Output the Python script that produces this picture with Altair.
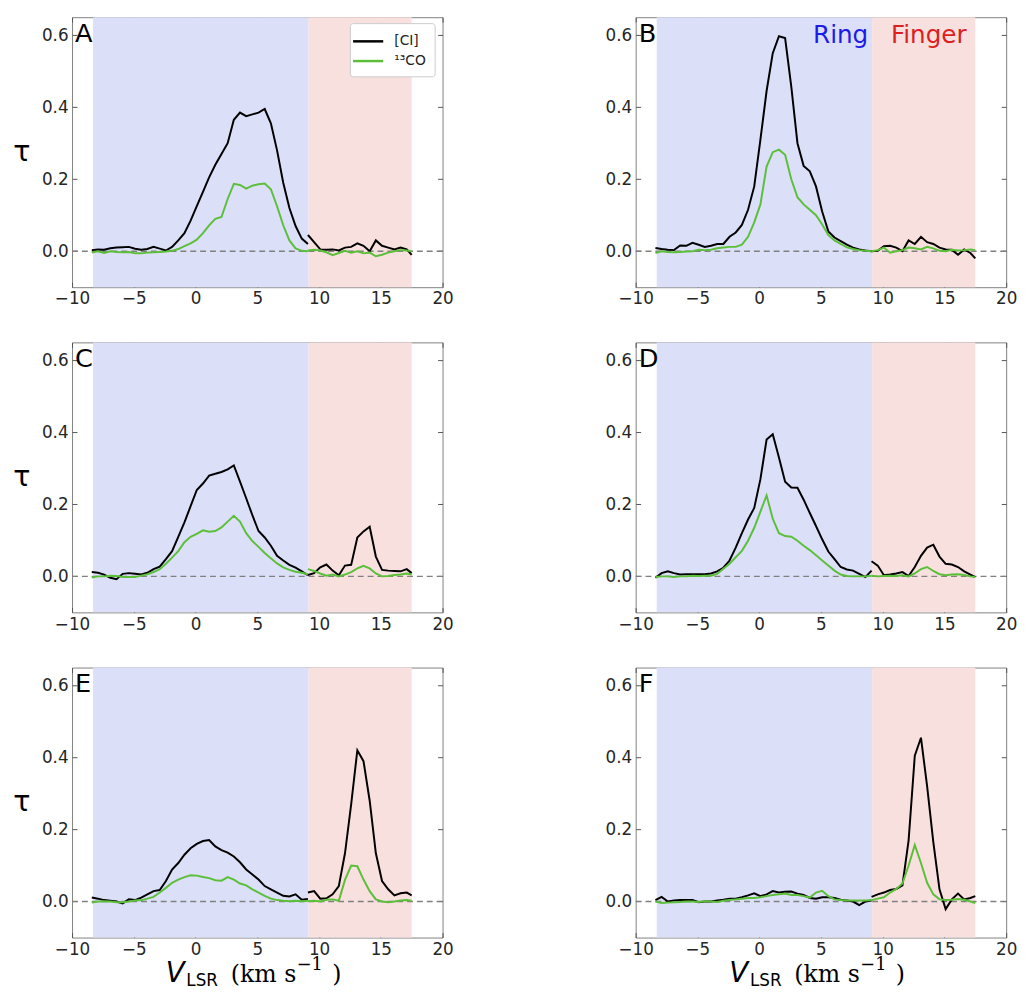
import altair as alt
import pandas as pd

# ---------------- data ----------------
V_RING = [-8.4, -7.9, -7.4, -6.9, -6.4, -5.9, -5.4, -4.9, -4.4, -3.9, -3.4, -2.9,
          -2.4, -1.9, -1.4, -0.9, -0.4, 0.1, 0.6, 1.1, 1.6, 2.1, 2.6, 3.1,
          3.6, 4.1, 4.6, 5.1, 5.6, 6.1, 6.6, 7.1, 7.6, 8.1, 8.6, 9.1]
V_FINGER = [9.1, 9.6, 10.1, 10.6, 11.1, 11.6, 12.1, 12.6, 13.1, 13.6, 14.1, 14.6,
            15.1, 15.6, 16.1, 16.6, 17.1, 17.5]

# Panel A
CI_A_RING = [0.003, 0.005, 0.004, 0.008, 0.010, 0.011, 0.012, 0.007, 0.004, 0.006, 0.012, 0.007,
             0.002, 0.012, 0.030, 0.050, 0.085, 0.125, 0.165, 0.205, 0.240, 0.270, 0.300, 0.365,
             0.385, 0.375, 0.380, 0.385, 0.395, 0.355, 0.280, 0.190, 0.120, 0.070, 0.035, 0.020]
CO_A_RING = [-0.004, 0.000, -0.005, 0.000, -0.002, -0.003, -0.002, -0.006, -0.006, -0.004, -0.003, -0.002,
             -0.001, 0.001, 0.006, 0.014, 0.022, 0.032, 0.050, 0.072, 0.090, 0.095, 0.145, 0.187,
             0.184, 0.174, 0.182, 0.186, 0.188, 0.172, 0.125, 0.072, 0.030, 0.008, 0.001, 0.000]
CI_A_FINGER = [0.045, 0.025, 0.005, 0.004, 0.005, 0.002, 0.010, 0.012, 0.022, 0.015, 0.000, 0.030,
               0.015, 0.010, 0.005, 0.010, 0.005, -0.010]
CO_A_FINGER = [0.002, 0.004, 0.002, -0.003, -0.011, -0.005, 0.001, -0.004, 0.000, -0.006, -0.004, -0.014,
               -0.010, -0.004, 0.000, 0.003, 0.002, 0.000]

# Panel B
CI_B_RING = [0.009, 0.006, 0.004, 0.003, 0.016, 0.015, 0.023, 0.018, 0.012, 0.015, 0.020, 0.020,
             0.040, 0.052, 0.073, 0.115, 0.180, 0.310, 0.445, 0.550, 0.597, 0.592, 0.457, 0.300,
             0.237, 0.222, 0.180, 0.110, 0.055, 0.038, 0.028, 0.018, 0.010, 0.005, 0.002, 0.000]
CO_B_RING = [-0.005, 0.000, -0.002, -0.003, -0.002, -0.001, 0.000, 0.004, 0.003, 0.004, 0.008, 0.010,
             0.012, 0.012, 0.018, 0.040, 0.080, 0.130, 0.235, 0.275, 0.282, 0.268, 0.200, 0.150,
             0.130, 0.115, 0.100, 0.074, 0.045, 0.030, 0.020, 0.011, 0.006, 0.003, 0.001, 0.000]
CI_B_FINGER = [0.000, 0.001, 0.014, 0.015, 0.010, 0.000, 0.030, 0.020, 0.040, 0.025, 0.020, 0.010,
               0.005, 0.004, -0.010, 0.005, -0.005, -0.020]
CO_B_FINGER = [0.000, 0.003, 0.010, -0.004, 0.000, 0.003, 0.010, 0.008, 0.005, 0.012, 0.008, 0.001,
               0.000, 0.004, 0.002, 0.003, 0.005, 0.003]

# Panel C
CI_C_RING = [0.012, 0.010, 0.005, -0.004, -0.008, 0.007, 0.009, 0.007, 0.005, 0.010, 0.020, 0.027,
             0.048, 0.070, 0.110, 0.150, 0.195, 0.240, 0.258, 0.280, 0.285, 0.290, 0.297, 0.308,
             0.263, 0.217, 0.170, 0.126, 0.108, 0.085, 0.057, 0.044, 0.032, 0.024, 0.014, 0.003]
CO_C_RING = [-0.003, 0.000, 0.000, 0.002, 0.001, -0.002, -0.002, -0.002, 0.002, 0.006, 0.012, 0.020,
             0.035, 0.052, 0.070, 0.095, 0.110, 0.118, 0.128, 0.124, 0.126, 0.136, 0.152, 0.168,
             0.152, 0.120, 0.098, 0.082, 0.065, 0.050, 0.036, 0.025, 0.018, 0.013, 0.010, 0.006]
CI_C_FINGER = [0.004, 0.009, 0.025, 0.033, 0.016, 0.003, 0.030, 0.032, 0.108, 0.125, 0.138, 0.055,
               0.018, 0.016, 0.015, 0.014, 0.020, 0.009]
CO_C_FINGER = [0.020, 0.015, 0.008, 0.002, 0.005, 0.000, 0.005, 0.012, 0.022, 0.029, 0.022, 0.008,
               0.000, 0.001, 0.004, 0.005, 0.008, 0.005]

# Panel D
CI_D_RING = [-0.004, 0.009, 0.014, 0.009, 0.005, 0.006, 0.006, 0.006, 0.006, 0.008, 0.014, 0.024,
             0.044, 0.080, 0.120, 0.158, 0.190, 0.270, 0.380, 0.395, 0.330, 0.263, 0.247, 0.246,
             0.213, 0.176, 0.140, 0.103, 0.069, 0.048, 0.026, 0.019, 0.016, 0.007, -0.002, 0.016]
CO_D_RING = [-0.002, 0.000, 0.000, -0.002, 0.000, 0.000, 0.002, 0.001, 0.002, 0.002, 0.007, 0.021,
             0.035, 0.053, 0.071, 0.099, 0.135, 0.180, 0.225, 0.160, 0.120, 0.112, 0.110, 0.099,
             0.085, 0.073, 0.059, 0.044, 0.030, 0.016, 0.005, 0.001, 0.000, 0.000, 0.000, 0.002]
CI_D_FINGER = [0.042, 0.030, 0.003, 0.005, 0.008, 0.012, 0.001, 0.026, 0.057, 0.080, 0.088, 0.055,
               0.035, 0.033, 0.026, 0.014, 0.005, -0.002]
CO_D_FINGER = [0.002, 0.000, 0.001, 0.002, 0.001, 0.003, 0.000, 0.008, 0.020, 0.026, 0.015, 0.006,
               0.003, 0.005, 0.006, 0.004, 0.000, -0.002]

# Panel E
CI_E_RING = [0.011, 0.008, 0.004, 0.002, 0.000, -0.005, 0.006, 0.004, 0.011, 0.020, 0.029, 0.032,
             0.057, 0.089, 0.107, 0.130, 0.148, 0.160, 0.168, 0.171, 0.153, 0.143, 0.136, 0.125,
             0.109, 0.089, 0.075, 0.061, 0.043, 0.034, 0.025, 0.016, 0.014, 0.020, 0.005, 0.007]
CO_E_RING = [-0.003, 0.000, 0.001, 0.000, -0.002, -0.002, 0.000, 0.003, 0.004, 0.008, 0.013, 0.025,
             0.038, 0.052, 0.061, 0.068, 0.073, 0.072, 0.068, 0.065, 0.059, 0.058, 0.068, 0.061,
             0.050, 0.045, 0.034, 0.025, 0.016, 0.008, 0.004, 0.002, 0.001, 0.002, 0.001, 0.002]
CI_E_FINGER = [0.025, 0.029, 0.008, 0.009, 0.020, 0.043, 0.134, 0.270, 0.420, 0.390, 0.280, 0.134,
               0.057, 0.034, 0.017, 0.023, 0.025, 0.017]
CO_E_FINGER = [0.001, 0.002, 0.000, 0.005, 0.006, 0.002, 0.060, 0.100, 0.098, 0.061, 0.029, 0.006,
               0.000, -0.002, 0.000, 0.003, 0.004, 0.002]

# Panel F
CI_F_RING = [0.004, 0.013, 0.000, 0.003, 0.004, 0.004, 0.004, -0.002, 0.000, 0.000, 0.003, 0.005,
             0.008, 0.008, 0.012, 0.017, 0.023, 0.015, 0.020, 0.029, 0.025, 0.027, 0.028, 0.022,
             0.018, 0.010, 0.008, 0.012, 0.012, 0.010, 0.005, 0.003, 0.000, -0.010, 0.000, 0.003]
CO_F_RING = [0.000, -0.004, -0.003, -0.002, -0.001, 0.000, 0.000, -0.001, 0.001, 0.000, -0.001, 0.002,
             0.004, 0.006, 0.008, 0.010, 0.010, 0.012, 0.015, 0.018, 0.020, 0.022, 0.018, 0.018,
             0.015, 0.011, 0.025, 0.030, 0.015, 0.006, 0.004, 0.003, 0.003, 0.003, 0.003, 0.004]
CI_F_FINGER = [0.013, 0.020, 0.025, 0.032, 0.035, 0.045, 0.170, 0.405, 0.455, 0.320, 0.165, 0.034,
               -0.021, 0.006, 0.022, 0.006, 0.010, 0.015]
CO_F_FINGER = [0.004, 0.008, 0.012, 0.025, 0.035, 0.050, 0.100, 0.157, 0.107, 0.052, 0.020, 0.006,
               0.004, 0.005, 0.007, 0.005, 0.000, -0.004]

PANEL_LABELS = ["A", "B", "C", "D", "E", "F"]
PANEL_DATA = [
    (CI_A_RING, CO_A_RING, CI_A_FINGER, CO_A_FINGER),
    (CI_B_RING, CO_B_RING, CI_B_FINGER, CO_B_FINGER),
    (CI_C_RING, CO_C_RING, CI_C_FINGER, CO_C_FINGER),
    (CI_D_RING, CO_D_RING, CI_D_FINGER, CO_D_FINGER),
    (CI_E_RING, CO_E_RING, CI_E_FINGER, CO_E_FINGER),
    (CI_F_RING, CO_F_RING, CI_F_FINGER, CO_F_FINGER),
]

SPECIES = ["[CI]", "¹³CO"]
SPECIES_COLORS = ["#000000", "#5cbf3a"]
REGION_NAMES = ["Ring", "Finger"]
REGION_START = [-8.3, 9.15]
REGION_END = [9.15, 17.5]
REGION_FILL = ["#dcdff8", "#f8e0df"]
REGION_TEXT_COLORS = ["#1c1ce8", "#dd1f1f"]
X_TICKS = [-10, -5, 0, 5, 10, 15, 20]
Y_TICKS = [0.0, 0.2, 0.4, 0.6]
X_DOMAIN = [-10, 20]
Y_DOMAIN = [-0.1, 0.65]

W, H = 376, 274
FONT = "DejaVu Sans"
SERIF = "DejaVu Serif"


def text_layer(txt, x, y, size, font=FONT, color="black", align="left",
               baseline="alphabetic", style="normal"):
    return alt.Chart(pd.DataFrame({"t": [txt]})).mark_text(
        align=align, baseline=baseline, fontSize=size, font=font,
        color=color, fontStyle=style,
    ).encode(text="t:N", x=alt.value(x), y=alt.value(y))


def make_panel(i):
    ci_r, co_r, ci_f, co_f = PANEL_DATA[i]
    rows = []
    for sp, ring, finger in [(SPECIES[0], ci_r, ci_f), (SPECIES[1], co_r, co_f)]:
        for v, t in zip(V_RING, ring):
            rows.append({"v": v, "tau": t, "species": sp, "seg": sp + " ring"})
        for v, t in zip(V_FINGER, finger):
            rows.append({"v": v, "tau": t, "species": sp, "seg": sp + " finger"})
    df = pd.DataFrame(rows)

    xscale = alt.Scale(domain=X_DOMAIN, nice=False, zero=False)
    yscale = alt.Scale(domain=Y_DOMAIN, nice=False, zero=False)

    reg_df = pd.DataFrame({"region": REGION_NAMES, "start": REGION_START, "end": REGION_END})
    bands = alt.Chart(reg_df).mark_rect().encode(
        x=alt.X("start:Q", scale=xscale,
                axis=alt.Axis(orient="bottom", values=X_TICKS, format="d", title=None,
                              offset=-5, tickSize=5, labelPadding=4, domain=False, grid=False,
                              labelFlush=False, labelOverlap=False)),
        x2="end:Q",
        y=alt.value(0), y2=alt.value(H),
        fill=alt.Fill("region:N", scale=alt.Scale(domain=REGION_NAMES, range=REGION_FILL), legend=None),
    )

    zero = alt.Chart(pd.DataFrame({"z": [0.0]})).mark_rule(
        color="#808080", strokeDash=[6, 4], strokeWidth=1.4
    ).encode(y=alt.Y("z:Q", scale=yscale, axis=None))

    if i == 0:
        legend = alt.Legend(
            title=None, orient="none", legendX=282, legendY=6,
            fillColor="white", strokeColor="#cccccc", cornerRadius=3, padding=8,
            symbolType="M-1.7,0H1.7", symbolStrokeWidth=2.5, symbolSize=324,
            symbolFillColor="transparent",
            labelFont=FONT, labelFontSize=14, labelColor="#222222", labelOffset=16,
            rowPadding=2,
        )
        stroke = alt.Stroke("species:N", scale=alt.Scale(domain=SPECIES, range=SPECIES_COLORS),
                            legend=legend)
    else:
        stroke = alt.Stroke("species:N", scale=alt.Scale(domain=SPECIES, range=SPECIES_COLORS),
                            legend=None)

    lines = alt.Chart(df).mark_line(strokeWidth=2).encode(
        x=alt.X("v:Q", scale=xscale, axis=None),
        y=alt.Y("tau:Q", scale=yscale,
                axis=alt.Axis(orient="left", values=Y_TICKS, format=".1f", title=None,
                              offset=-5, tickSize=5, labelPadding=4, domain=False, grid=False,
                              labelFlush=False, labelOverlap=False)),
        stroke=stroke,
        detail="seg:N",
        order="v:Q",
    )

    # inward ticks on the top and right edges: a bottom axis moved up by H and
    # a left axis moved right by W, so that nothing sticks out of the frame
    ticks = alt.Chart(df).mark_point(opacity=0).encode(
        x=alt.X("v:Q", scale=xscale,
                axis=alt.Axis(orient="bottom", values=X_TICKS, labels=False, title=None,
                              offset=-H, tickSize=5, domain=False, grid=False)),
        y=alt.Y("tau:Q", scale=yscale,
                axis=alt.Axis(orient="left", values=Y_TICKS, labels=False, title=None,
                              offset=-W, tickSize=5, domain=False, grid=False)),
    )

    layers = [bands, zero, lines, ticks,
              text_layer(PANEL_LABELS[i], 3, 4, 26, baseline="top")]

    if i == 1:
        layers.append(text_layer(REGION_NAMES[0], 236, 6, 25, color=REGION_TEXT_COLORS[0],
                                 align="right", baseline="top"))
        layers.append(text_layer(REGION_NAMES[1], 259, 6, 25, color=REGION_TEXT_COLORS[1],
                                 align="left", baseline="top"))

    if i % 2 == 0:
        layers.append(text_layer("τ", -51, 137, 29, align="center", baseline="middle"))

    if i >= 4:
        layers.append(text_layer("V", 95, 319, 28, style="italic"))
        layers.append(text_layer("LSR", 116, 323, 17))
        layers.append(text_layer("(km s", 161, 319, 24, font=SERIF))
        layers.append(text_layer("−1", 228, 307, 18, font=SERIF))
        layers.append(text_layer(")", 264, 319, 24, font=SERIF))

    return alt.layer(*layers).resolve_axis(x="independent", y="independent").properties(
        width=W, height=H
    )


panels = [make_panel(i) for i in range(6)]
rows = [
    alt.hconcat(panels[0], panels[1], spacing=152).resolve_scale(stroke="independent"),
    alt.hconcat(panels[2], panels[3], spacing=152).resolve_scale(stroke="independent"),
    alt.hconcat(panels[4], panels[5], spacing=152).resolve_scale(stroke="independent"),
]

chart = alt.vconcat(*rows, spacing=34).resolve_scale(stroke="independent").configure_view(
    stroke="#808080", strokeWidth=1
).configure_axis(
    labelFont=FONT, labelFontSize=17, labelColor="#262626", tickColor="#555555", tickWidth=1
).properties(
    padding={"left": 4, "top": 1, "right": 0, "bottom": 0}
)

chart.save("out.html", embed_options={"renderer": "svg", "actions": False})
